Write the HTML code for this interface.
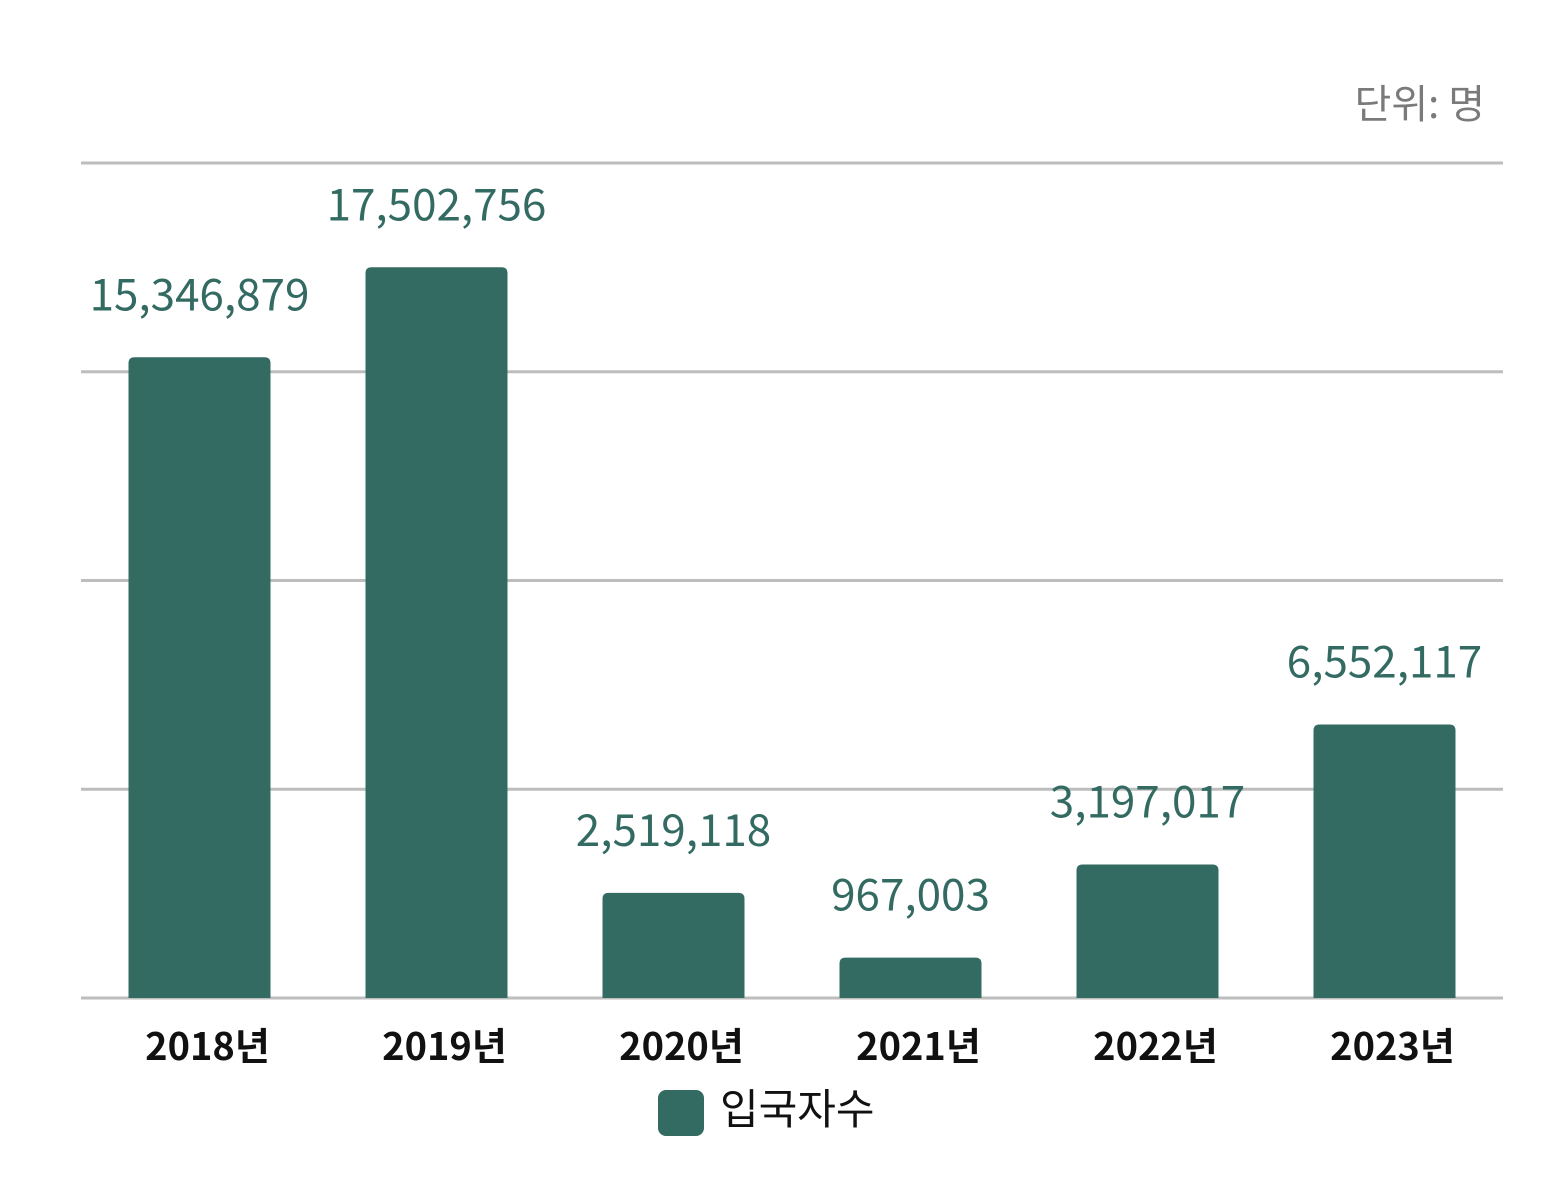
<!DOCTYPE html>
<html><head><meta charset="utf-8"><style>
html,body{margin:0;padding:0;background:#fff;}
svg text{font-family:"Noto Sans CJK KR","Liberation Sans",sans-serif;}
</style></head><body>
<svg width="1560" height="1182" viewBox="0 0 1560 1182">
<text x="1485" y="118" text-anchor="end" font-size="40" fill="#7a7a7a">단위: 명</text>
<g id="grid"></g>
<g id="bars"></g>
<g id="labels"></g>
<g id="xaxis"></g>
<g>
<rect x="658" y="1090" width="46" height="46" rx="8" fill="#336b62"/>
<text x="720" y="1124" font-size="42" fill="#111">입국자수</text>
</g>
</svg>
<script>
const categories = ["2018년","2019년","2020년","2021년","2022년","2023년"];
const values = [15346879,17502756,2519118,967003,3197017,6552117];
const valueLabels = ["15,346,879","17,502,756","2,519,118","967,003","3,197,017","6,552,117"];
const gridTicks = [0,5000000,10000000,15000000,20000000];

const NS="http://www.w3.org/2000/svg";
const x0=81,x1=1503,y0=998,y1=163,maxV=20000000;
const band=(x1-x0)/categories.length,bw=142;
const yS=v=>y0-(v/maxV)*(y0-y1);
const xC=i=>x0+band*(i+0.5);
function mk(t,a,p){const e=document.createElementNS(NS,t);for(const k in a)e.setAttribute(k,a[k]);p.appendChild(e);return e;}
const grid=document.getElementById('grid'),bars=document.getElementById('bars'),labels=document.getElementById('labels'),xa=document.getElementById('xaxis');
gridTicks.forEach(t=>{
  const l=mk('line',{x1:x0,x2:x1,y1:yS(t),y2:yS(t),stroke:'#bdbdbd','stroke-width':3},grid);
  
  
});
values.forEach((v,i)=>{
  const top=yS(v),h=y0-top,x=xC(i)-bw/2,r=Math.min(6,h/2);
  const p=mk('path',{d:`M${x},${y0}V${top+r}Q${x},${top} ${x+r},${top}H${x+bw-r}Q${x+bw},${top} ${x+bw},${top+r}V${y0}Z`,fill:'#336b62'},bars);
  
  
  const t=mk('text',{x:xC(i),y:top-47,'text-anchor':'middle','font-size':44,fill:'#336b62'},labels);
  t.textContent=valueLabels[i];
  
  
  const c=mk('text',{x:xC(i)+8,y:1060,'text-anchor':'middle','font-size':38,'font-weight':'bold',fill:'#111'},xa);
  c.textContent=categories[i];
  
  
});
</script>
</body></html>
